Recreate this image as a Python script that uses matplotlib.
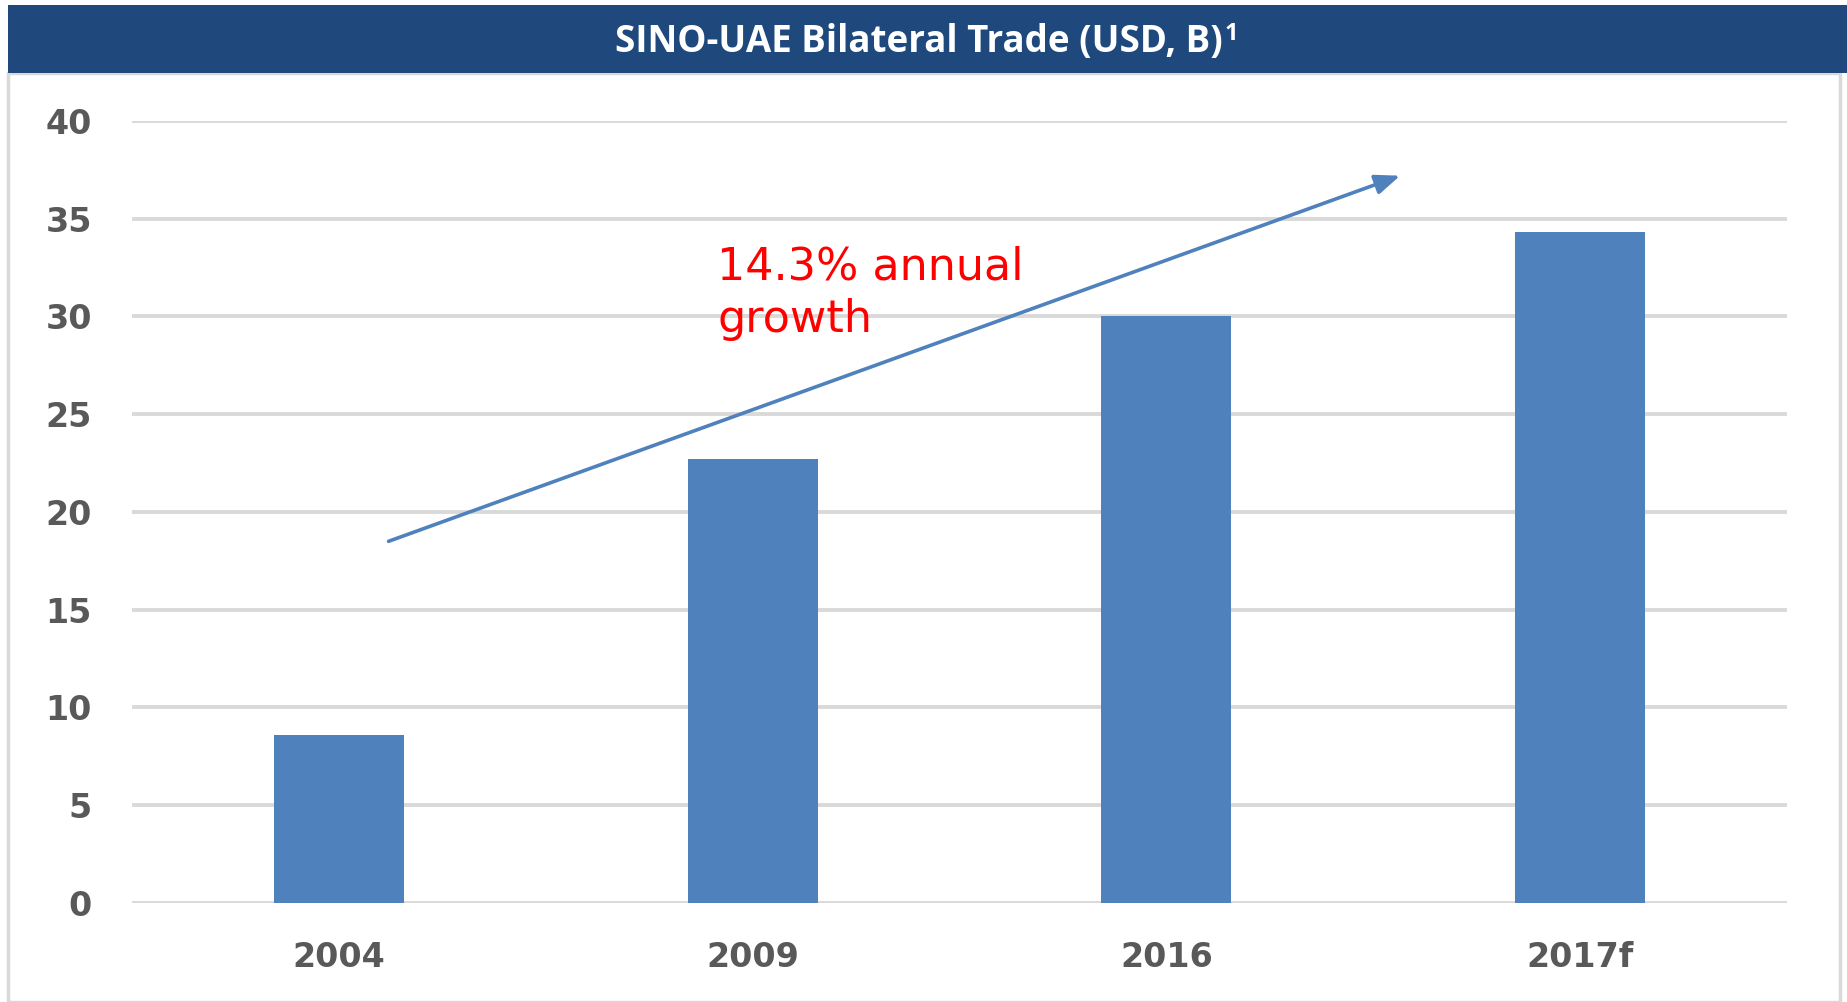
import matplotlib.pyplot as plt
from matplotlib.patches import Rectangle

# data
years = ['2004', '2009', '2016', '2017f']
trade = [8.6, 22.7, 30.0, 34.3]
yticks = [0, 5, 10, 15, 20, 25, 30, 35, 40]

bar_color = '#4F81BD'
grid_color = '#D9D9D9'
label_color = '#595959'

fig = plt.figure(figsize=(18.47, 10.02), dpi=100)
fig.patch.set_facecolor('white')

# title banner and panel frame
fig.patches.append(Rectangle((0.0045, 0.0), 0.9915, 0.927, transform=fig.transFigure,
                             facecolor='none', edgecolor='#D9D9D9', linewidth=2.5, zorder=0))
fig.patches.append(Rectangle((0.0045, 0.927), 0.9955, 0.068, transform=fig.transFigure,
                             facecolor='#1F497D', edgecolor='none', zorder=1))
title = fig.text(0.4975, 0.958, 'SINO-UAE Bilateral Trade (USD, B)', color='white',
                 fontsize=26.5, fontweight='bold', family='Open Sans', ha='center', va='center')

ax = fig.add_axes([0.0715, 0.0988, 0.896, 0.7805])

x = range(len(years))
ax.bar(x, trade, width=0.314, color=bar_color, zorder=3)

ax.set_ylim(0, 40)
ax.set_xlim(-0.5, 3.5)
ax.set_yticks(yticks)
ax.set_xticks(list(x))
ax.set_xticklabels(years)
ax.yaxis.grid(True, color=grid_color, linewidth=2.8, zorder=0)
ax.set_axisbelow(True)
for s in ax.spines.values():
    s.set_visible(False)
ax.tick_params(axis='both', length=0, labelsize=24, labelcolor=label_color)
ax.tick_params(axis='y', pad=29)
ax.tick_params(axis='x', pad=27)
for lab in ax.get_xticklabels() + ax.get_yticklabels():
    lab.set_fontweight('bold')

# growth arrow and note
ax.annotate('', xy=(2.565, 37.2), xytext=(0.12, 18.5),
            arrowprops=dict(arrowstyle='-|>,head_length=1.5,head_width=0.6',
                            color=bar_color, linewidth=2.6, shrinkA=0, shrinkB=0))
ax.text(0.915, 31.9, '14.3% annual', color='#FF0000', fontsize=32, ha='left', va='baseline')
ax.text(0.915, 29.2, 'growth', color='#FF0000', fontsize=32, ha='left', va='baseline')

# superscript footnote mark after the title
fig.canvas.draw()
bb = title.get_window_extent().transformed(fig.transFigure.inverted())
fig.text(bb.x1 + 0.001, bb.y1 + 0.001, '1', color='white', fontsize=17, fontweight='bold',
         family='Open Sans', ha='left', va='top')

fig.savefig('out.png', dpi=100)
